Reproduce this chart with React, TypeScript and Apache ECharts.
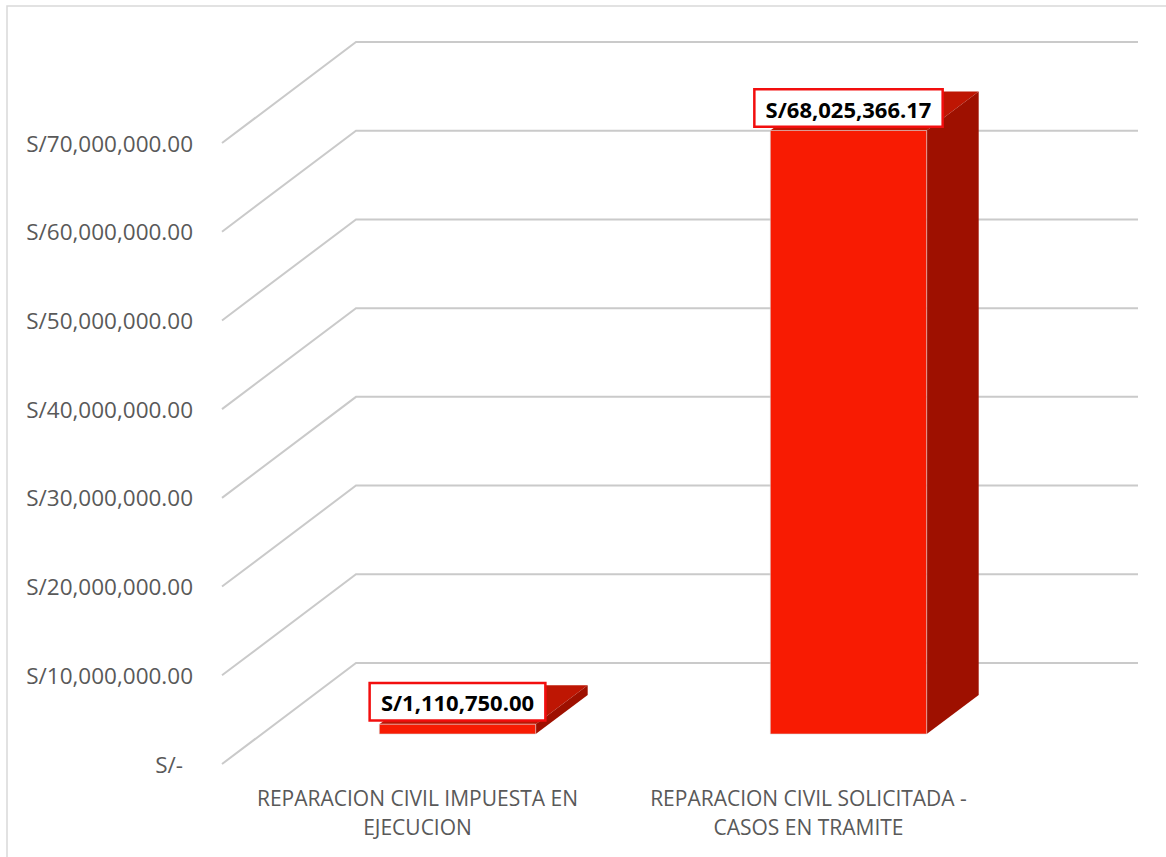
import React, { useEffect, useRef } from "react";
import * as echarts from "echarts";

const categories = [
  "REPARACION CIVIL IMPUESTA EN\nEJECUCION",
  "REPARACION CIVIL SOLICITADA -\nCASOS EN TRAMITE",
];
const values = [1110750.0, 68025366.17];
const gridValues = [0, 10000000, 20000000, 30000000, 40000000, 50000000, 60000000, 70000000];

// 3D depth (pixel offsets of the back wall and of the bar faces)
const DEPTH_X = 134;
const DEPTH_Y = 101;
const BAR_FRONT = [40, 30];
const BAR_BACK = [92, 69];

const fmt = (v: number) =>
  "S/" + v.toLocaleString("en-US", { minimumFractionDigits: 2, maximumFractionDigits: 2 });

export default function App() {
  const ref = useRef<HTMLDivElement>(null);
  useEffect(() => {
    if (!ref.current) return;
    const chart = echarts.init(ref.current, null, { renderer: "svg" });
    chart.setOption({
      animation: false,
      backgroundColor: "#ffffff",
      graphic: [
        {
          type: "rect",
          shape: { x: 7, y: 6, width: 1300, height: 1000 },
          style: { fill: null, stroke: "#D9D9D9", lineWidth: 1.5 },
          silent: true,
        },
      ],
      grid: { left: 222, right: 162, top: 143, bottom: 93 },
      xAxis: {
        type: "category",
        data: categories,
        axisLine: { show: false },
        axisTick: { show: false },
        axisLabel: {
          color: "#595959",
          fontFamily: "Open Sans",
          fontSize: 21,
          lineHeight: 29,
          margin: 19,
          interval: 0,
        },
      },
      yAxis: {
        type: "value",
        min: 0,
        max: 70000000,
        interval: 10000000,
        splitLine: { show: false },
        axisLine: { show: false },
        axisTick: { show: false },
        axisLabel: {
          color: "#595959",
          fontFamily: "Open Sans",
          fontSize: 22.5,
          margin: 29,
          formatter: (v: number) => (v === 0 ? "{z|S/-}" : fmt(v)),
          rich: {
            z: { color: "#595959", fontFamily: "Open Sans", fontSize: 22.5, padding: [0, 10, 0, 0] },
          },
        },
      },
      series: [
        {
          type: "custom",
          z: 1,
          clip: false,
          data: gridValues.map((v) => [0, v]),
          encode: { x: 0, y: 1 },
          renderItem: (params: any, api: any) => {
            const cs = params.coordSys;
            const y = api.coord([0, api.value(1)])[1];
            const x0 = cs.x;
            const x1 = cs.x + cs.width;
            return {
              type: "polyline",
              shape: {
                points: [
                  [x0, y],
                  [x0 + DEPTH_X, y - DEPTH_Y],
                  [x1 + DEPTH_X, y - DEPTH_Y],
                ],
              },
              style: { stroke: "#CACACA", lineWidth: 2, fill: null },
            };
          },
        },
        {
          type: "custom",
          z: 2,
          clip: false,
          data: values.map((v, i) => [i, v]),
          encode: { x: 0, y: 1 },
          renderItem: (params: any, api: any) => {
            const idx = api.value(0);
            const val = api.value(1);
            const p0 = api.coord([idx, 0]);
            const p1 = api.coord([idx, val]);
            const w = api.size([1, 0])[0] * 0.4;
            const fl = p0[0] - w / 2 + BAR_FRONT[0];
            const fr = fl + w;
            const fb = p0[1] - BAR_FRONT[1];
            const ft = p1[1] - BAR_FRONT[1];
            const bx = BAR_BACK[0] - BAR_FRONT[0];
            const by = BAR_BACK[1] - BAR_FRONT[1];
            return {
              type: "group",
              children: [
                {
                  type: "polygon",
                  shape: { points: [[fl, ft], [fr, ft], [fr + bx, ft - by], [fl + bx, ft - by]] },
                  style: { fill: "#BE1603" },
                },
                {
                  type: "polygon",
                  shape: { points: [[fr, ft], [fr, fb], [fr + bx, fb - by], [fr + bx, ft - by]] },
                  style: { fill: "#9E1000" },
                },
                {
                  type: "rect",
                  shape: { x: fl, y: ft, width: w, height: fb - ft },
                  style: { fill: "#F81B02", stroke: "#D8D8D8", lineWidth: 0.6 },
                },
                {
                  type: "text",
                  x: (fl + fr) / 2,
                  y: ft - 5,
                  style: {
                    text: fmt(val),
                    align: "center",
                    verticalAlign: "bottom",
                    fontFamily: "Open Sans",
                    fontWeight: "bold",
                    fontSize: 22,
                    fill: "#000000",
                    backgroundColor: "#ffffff",
                    borderColor: "#F20E0E",
                    borderWidth: 2.5,
                    padding: [7, 10, 6, 10],
                  },
                },
              ],
            };
          },
        },
      ],
    });
    return () => chart.dispose();
  }, []);
  return (
    <div
      ref={ref}
      style={{ position: "absolute", left: 0, top: 0, width: 1166, height: 857 }}
    />
  );
}
